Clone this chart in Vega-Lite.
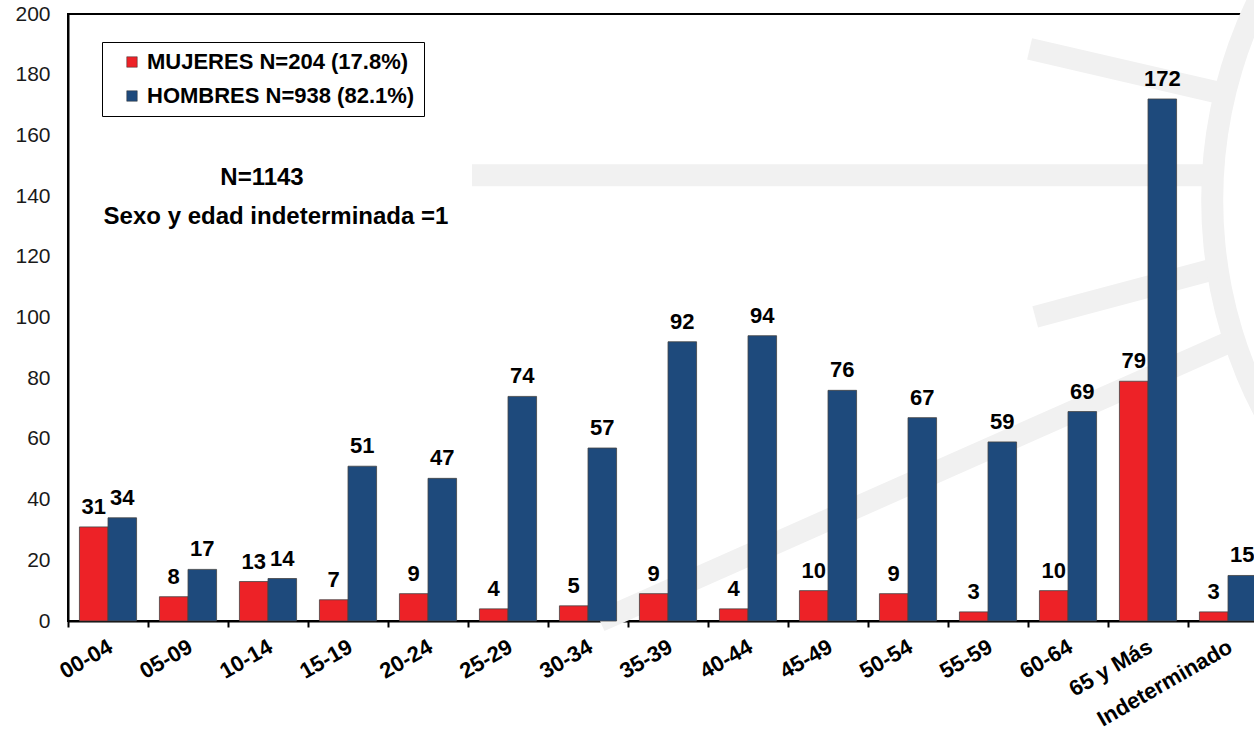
{
  "$schema": "https://vega.github.io/schema/vega-lite/v6.json",
  "width": 1200,
  "height": 607,
  "autosize": {"type": "none"},
  "padding": {"left": 68, "top": 14, "right": 0, "bottom": 110},
  "background": "white",
  "config": {
    "font": "Liberation Sans",
    "view": {"stroke": "black", "strokeWidth": 2},
    "legend": {"strokeColor": "black"}
  },
  "resolve": {"scale": {"x": "independent"}, "axis": {"x": "independent"}},
  "datasets": {
    "bars": [
      {"edad": "00-04", "sexo": "MUJERES N=204 (17.8%)", "n": 31},
      {"edad": "00-04", "sexo": "HOMBRES N=938 (82.1%)", "n": 34},
      {"edad": "05-09", "sexo": "MUJERES N=204 (17.8%)", "n": 8},
      {"edad": "05-09", "sexo": "HOMBRES N=938 (82.1%)", "n": 17},
      {"edad": "10-14", "sexo": "MUJERES N=204 (17.8%)", "n": 13},
      {"edad": "10-14", "sexo": "HOMBRES N=938 (82.1%)", "n": 14},
      {"edad": "15-19", "sexo": "MUJERES N=204 (17.8%)", "n": 7},
      {"edad": "15-19", "sexo": "HOMBRES N=938 (82.1%)", "n": 51},
      {"edad": "20-24", "sexo": "MUJERES N=204 (17.8%)", "n": 9},
      {"edad": "20-24", "sexo": "HOMBRES N=938 (82.1%)", "n": 47},
      {"edad": "25-29", "sexo": "MUJERES N=204 (17.8%)", "n": 4},
      {"edad": "25-29", "sexo": "HOMBRES N=938 (82.1%)", "n": 74},
      {"edad": "30-34", "sexo": "MUJERES N=204 (17.8%)", "n": 5},
      {"edad": "30-34", "sexo": "HOMBRES N=938 (82.1%)", "n": 57},
      {"edad": "35-39", "sexo": "MUJERES N=204 (17.8%)", "n": 9},
      {"edad": "35-39", "sexo": "HOMBRES N=938 (82.1%)", "n": 92},
      {"edad": "40-44", "sexo": "MUJERES N=204 (17.8%)", "n": 4},
      {"edad": "40-44", "sexo": "HOMBRES N=938 (82.1%)", "n": 94},
      {"edad": "45-49", "sexo": "MUJERES N=204 (17.8%)", "n": 10},
      {"edad": "45-49", "sexo": "HOMBRES N=938 (82.1%)", "n": 76},
      {"edad": "50-54", "sexo": "MUJERES N=204 (17.8%)", "n": 9},
      {"edad": "50-54", "sexo": "HOMBRES N=938 (82.1%)", "n": 67},
      {"edad": "55-59", "sexo": "MUJERES N=204 (17.8%)", "n": 3},
      {"edad": "55-59", "sexo": "HOMBRES N=938 (82.1%)", "n": 59},
      {"edad": "60-64", "sexo": "MUJERES N=204 (17.8%)", "n": 10},
      {"edad": "60-64", "sexo": "HOMBRES N=938 (82.1%)", "n": 69},
      {"edad": "65 y Más", "sexo": "MUJERES N=204 (17.8%)", "n": 79},
      {"edad": "65 y Más", "sexo": "HOMBRES N=938 (82.1%)", "n": 172},
      {"edad": "Indeterminado", "sexo": "MUJERES N=204 (17.8%)", "n": 3},
      {"edad": "Indeterminado", "sexo": "HOMBRES N=938 (82.1%)", "n": 15}
    ],
    "notes": [
      {"edad": "10-14", "y": 146, "label": "N=1143", "k": "a"},
      {"edad": "10-14", "y": 133, "label": "Sexo y edad indeterminada =1", "k": "b"}
    ],
    "watermark": [
      {"u": 5.05, "v": 146.9, "u2": 14.19, "v2": 146.9},
      {"u": 12.02, "v": 188.5, "u2": 14.4, "v2": 174},
      {"u": 12.09, "v": 100.2, "u2": 14.28, "v2": 115.6},
      {"u": 6.65, "v": 0, "u2": 14.49, "v2": 91.6}
    ],
    "ring": [
      {"u": 19.99, "v": 138.7}
    ]
  },
  "layer": [
    {
      "data": {"name": "watermark"},
      "mark": {"type": "rule", "color": "#f1f1f1", "strokeWidth": 22},
      "encoding": {
        "x": {"field": "u", "type": "quantitative", "scale": {"domain": [0, 15], "nice": false, "zero": false}, "axis": null},
        "x2": {"field": "u2"},
        "y": {"field": "v", "type": "quantitative"},
        "y2": {"field": "v2"}
      }
    },
    {
      "data": {"name": "ring"},
      "mark": {"type": "arc", "color": "#f1f1f1", "radius": 466, "radius2": 444, "theta": 0, "theta2": 6.2832},
      "encoding": {
        "x": {"field": "u", "type": "quantitative", "scale": {"domain": [0, 15], "nice": false, "zero": false}, "axis": null},
        "y": {"field": "v", "type": "quantitative"}
      }
    },
    {
      "layer": [
        {
          "data": {"name": "bars"},
          "mark": {"type": "bar", "stroke": "#444444", "strokeWidth": 0.8},
          "encoding": {
            "x": {
              "field": "edad", "type": "nominal", "sort": null,
              "scale": {"paddingInner": 0, "paddingOuter": 0},
              "axis": {
                "title": null, "labelAngle": -30, "labelAlign": "right", "labelBaseline": "top",
                "labelFont": "Liberation Sans", "labelFontSize": 22, "labelFontWeight": "bold",
                "labelColor": "black", "labelPadding": 9, "labelOffset": -3,
                "domainColor": "black", "domainWidth": 2, "tickColor": "black", "tickWidth": 2,
                "tickSize": 6, "tickBand": "extent", "labelOverlap": false
              }
            },
            "xOffset": {
              "field": "sexo", "type": "nominal",
              "sort": ["MUJERES N=204 (17.8%)", "HOMBRES N=938 (82.1%)"],
              "scale": {"paddingOuter": 0.4, "paddingInner": 0}
            },
            "y": {
              "field": "n", "type": "quantitative",
              "scale": {"domain": [0, 200], "nice": false},
              "axis": {
                "title": null, "values": [0, 20, 40, 60, 80, 100, 120, 140, 160, 180, 200],
                "grid": false, "ticks": false, "domainColor": "black", "domainWidth": 2,
                "labelFontSize": 21, "labelColor": "#1a1a1a", "labelPadding": 18
              }
            },
            "color": {
              "field": "sexo", "type": "nominal",
              "sort": ["MUJERES N=204 (17.8%)", "HOMBRES N=938 (82.1%)"],
              "scale": {"range": ["#ED2227", "#1E4A7C"]},
              "legend": {
                "title": null, "orient": "none", "legendX": 34, "legendY": 28,
                "strokeColor": "black", "fillColor": "white", "padding": 9, "symbolOffset": 10,
                "symbolType": "square", "symbolSize": 110, "symbolStrokeColor": "#333",
                "symbolStrokeWidth": 0.5, "labelFontSize": 22, "labelFontWeight": "bold",
                "labelColor": "black", "rowPadding": 12, "labelOffset": 4, "labelLimit": 400,
                "labelExpr": "datum.label + '  '"
              }
            }
          }
        },
        {
          "data": {"name": "bars"},
          "mark": {"type": "text", "baseline": "bottom", "dy": -8, "fontSize": 22, "fontWeight": "bold", "color": "black"},
          "encoding": {
            "x": {"field": "edad", "type": "nominal", "sort": null},
            "xOffset": {"field": "sexo", "type": "nominal", "sort": ["MUJERES N=204 (17.8%)", "HOMBRES N=938 (82.1%)"]},
            "y": {"field": "n", "type": "quantitative"},
            "text": {"field": "n", "type": "quantitative"}
          }
        },
        {
          "data": {"name": "notes"},
          "transform": [{"filter": "datum.k === 'a'"}],
          "mark": {"type": "text", "baseline": "middle", "dx": -6, "fontSize": 24, "fontWeight": "bold", "color": "black"},
          "encoding": {
            "x": {"field": "edad", "type": "nominal", "sort": null},
            "y": {"field": "y", "type": "quantitative"},
            "text": {"field": "label"}
          }
        },
        {
          "data": {"name": "notes"},
          "transform": [{"filter": "datum.k === 'b'"}],
          "mark": {"type": "text", "baseline": "middle", "dx": 8, "fontSize": 24, "fontWeight": "bold", "color": "black"},
          "encoding": {
            "x": {"field": "edad", "type": "nominal", "sort": null},
            "y": {"field": "y", "type": "quantitative"},
            "text": {"field": "label"}
          }
        }
      ]
    }
  ]
}
